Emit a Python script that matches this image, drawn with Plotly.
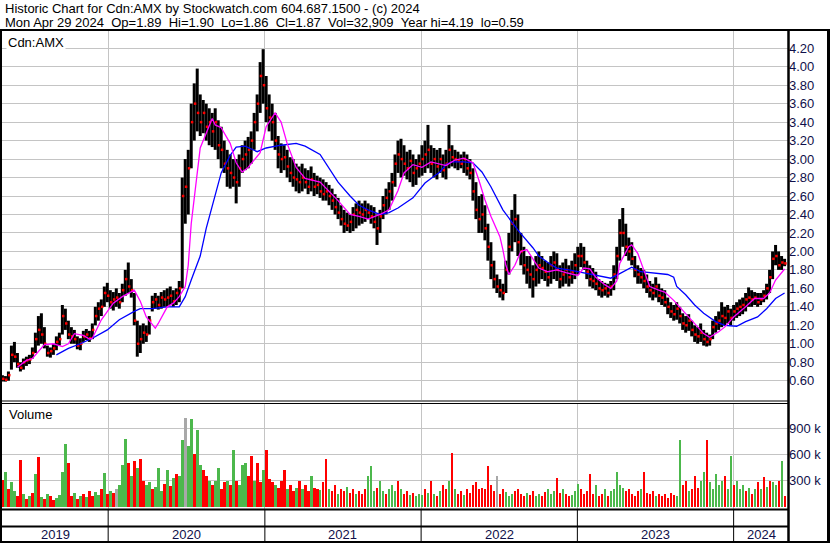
import plotly.graph_objects as go
import pandas as pd

# ---------------- data (weekly) ----------------
start_date = "2019-04-29"
n_weeks = 262
weeks = pd.date_range(start_date, periods=n_weeks, freq="7D")

high = [.66,.65,.70,.98,1.02,.90,.80,.84,.86,.88,
        .96,1.12,1.30,1.33,1.18,.98,.96,1.00,1.08,1.12,
        1.42,1.38,1.25,1.18,1.15,1.08,1.06,1.14,1.16,1.14,
        1.22,1.40,1.45,1.48,1.62,1.66,1.58,1.56,1.60,1.55,
        1.65,1.80,1.88,1.70,1.55,1.25,1.20,1.22,1.20,1.30,
        1.52,1.55,1.52,1.56,1.58,1.60,1.62,1.58,1.60,1.68,
        2.80,3.00,3.10,3.60,3.82,3.98,3.70,3.64,3.60,3.55,
        3.50,3.55,3.42,3.35,3.20,3.10,3.05,3.00,3.00,3.05,
        3.15,3.20,3.24,3.30,3.50,3.70,4.05,4.19,3.90,3.70,
        3.60,3.50,3.25,3.17,3.15,3.10,3.02,3.00,2.95,2.92,
        2.95,2.90,2.88,2.92,2.85,2.82,2.80,2.78,2.75,2.72,
        2.68,2.62,2.58,2.50,2.45,2.42,2.40,2.48,2.52,2.55,
        2.52,2.55,2.52,2.50,2.48,2.40,2.45,2.60,2.68,2.75,
        2.85,3.05,3.20,3.22,3.15,3.08,3.10,3.05,3.00,3.05,
        3.15,3.20,3.37,3.15,3.12,3.10,3.12,3.05,3.10,3.37,
        3.15,3.10,3.08,3.05,3.08,3.05,3.00,2.90,2.75,2.60,
        2.62,2.50,2.30,2.10,1.90,1.75,1.70,1.65,1.90,2.20,
        2.45,2.62,2.40,2.20,2.05,1.95,1.95,1.85,1.95,2.00,
        1.95,1.90,1.88,1.95,2.00,1.98,1.85,1.88,1.92,1.85,
        1.90,1.98,2.05,2.09,2.05,1.90,1.85,1.82,1.78,1.70,
        1.68,1.66,1.65,1.68,1.85,2.05,2.35,2.47,2.30,2.15,
        2.10,1.95,1.85,1.82,1.80,1.75,1.68,1.65,1.72,1.65,
        1.60,1.58,1.50,1.45,1.42,1.45,1.40,1.33,1.30,1.32,
        1.25,1.20,1.18,1.22,1.15,1.12,1.10,1.25,1.30,1.35,
        1.45,1.40,1.42,1.38,1.42,1.45,1.48,1.50,1.55,1.61,
        1.58,1.56,1.55,1.55,1.58,1.65,1.80,2.00,2.07,2.00,1.95,1.92]

low = [.59,.59,.60,.72,.80,.74,.70,.72,.76,.78,
       .84,.90,.98,1.00,.95,.86,.85,.88,.93,.98,
       1.10,1.15,1.05,1.00,1.00,.94,.93,1.02,1.04,1.02,
       1.05,1.20,1.25,1.30,1.40,1.45,1.38,1.36,1.40,1.38,
       1.45,1.52,1.55,1.50,1.20,.86,.90,1.00,1.02,1.10,
       1.35,1.38,1.37,1.38,1.40,1.40,1.42,1.40,1.42,1.45,
       1.60,2.30,2.40,2.90,3.20,3.30,3.25,3.28,3.20,3.15,
       3.13,3.10,3.00,2.90,2.85,2.70,2.68,2.70,2.52,2.70,
       2.85,2.88,2.90,2.95,3.10,3.30,3.50,3.60,3.40,3.30,
       3.20,3.10,2.90,2.85,2.88,2.80,2.75,2.70,2.65,2.63,
       2.65,2.68,2.62,2.65,2.60,2.62,2.58,2.55,2.55,2.50,
       2.45,2.40,2.35,2.28,2.20,2.22,2.20,2.22,2.25,2.28,
       2.30,2.32,2.35,2.30,2.25,2.07,2.20,2.35,2.40,2.45,
       2.55,2.70,2.85,2.80,2.82,2.78,2.75,2.70,2.72,2.80,
       2.82,2.85,2.90,2.85,2.80,2.78,2.85,2.80,2.78,2.90,
       2.92,2.90,2.88,2.90,2.85,2.82,2.78,2.55,2.35,2.20,
       2.20,2.12,1.90,1.70,1.60,1.55,1.50,1.47,1.55,1.75,
       2.00,2.10,1.95,1.85,1.75,1.65,1.60,1.50,1.62,1.65,
       1.70,1.68,1.62,1.65,1.70,1.68,1.60,1.62,1.65,1.62,
       1.65,1.70,1.75,1.83,1.80,1.70,1.62,1.60,1.58,1.52,
       1.50,1.52,1.50,1.52,1.58,1.70,1.90,2.05,1.95,1.90,
       1.85,1.72,1.65,1.65,1.60,1.55,1.50,1.47,1.50,1.45,
       1.42,1.40,1.32,1.28,1.25,1.26,1.22,1.15,1.12,1.14,
       1.08,1.02,1.00,1.02,.98,.97,.98,1.05,1.12,1.15,
       1.18,1.20,1.22,1.20,1.25,1.28,1.30,1.32,1.35,1.40,
       1.40,1.42,1.40,1.42,1.45,1.48,1.55,1.70,1.85,1.80,1.80,1.84]

close = [.62,.61,.66,.88,.86,.78,.74,.80,.82,.83,
         .90,1.05,1.15,1.10,1.00,.90,.92,.95,1.02,1.05,
         1.30,1.22,1.10,1.08,1.05,.98,1.00,1.08,1.10,1.06,
         1.15,1.30,1.38,1.40,1.55,1.52,1.45,1.48,1.50,1.45,
         1.58,1.70,1.62,1.58,1.25,1.00,1.05,1.12,1.10,1.25,
         1.45,1.48,1.42,1.50,1.48,1.50,1.52,1.46,1.55,1.60,
         2.60,2.70,2.90,3.40,3.60,3.50,3.40,3.50,3.35,3.40,
         3.30,3.40,3.15,3.10,2.95,2.90,2.85,2.80,2.75,2.90,
         3.00,3.05,3.10,3.20,3.40,3.60,3.90,3.80,3.55,3.45,
         3.40,3.20,3.05,3.00,3.02,2.92,2.85,2.80,2.78,2.75,
         2.80,2.75,2.70,2.78,2.70,2.72,2.65,2.62,2.65,2.60,
         2.55,2.48,2.42,2.35,2.30,2.28,2.32,2.40,2.45,2.42,
         2.40,2.45,2.42,2.38,2.32,2.25,2.38,2.50,2.58,2.65,
         2.75,2.95,3.05,3.00,2.95,2.90,2.98,2.85,2.90,2.95,
         3.00,3.05,3.10,2.95,3.00,2.92,3.00,2.88,2.95,3.10,
         3.02,3.00,2.98,2.95,3.00,2.90,2.85,2.65,2.45,2.35,
         2.40,2.25,2.05,1.85,1.70,1.62,1.58,1.55,1.80,2.05,
         2.30,2.35,2.10,2.00,1.85,1.80,1.75,1.70,1.80,1.85,
         1.82,1.78,1.72,1.85,1.88,1.80,1.70,1.75,1.80,1.72,
         1.78,1.85,1.95,1.95,1.88,1.78,1.70,1.68,1.65,1.60,
         1.58,1.60,1.55,1.62,1.75,1.95,2.20,2.20,2.05,2.00,
         1.92,1.80,1.75,1.72,1.68,1.62,1.58,1.55,1.62,1.52,
         1.50,1.45,1.40,1.35,1.32,1.38,1.30,1.22,1.20,1.25,
         1.15,1.10,1.08,1.12,1.05,1.02,1.05,1.18,1.22,1.25,
         1.30,1.28,1.35,1.28,1.35,1.38,1.40,1.42,1.48,1.50,
         1.48,1.50,1.45,1.48,1.52,1.60,1.72,1.92,1.95,1.85,1.88,1.87]

volume_k = [310,400,200,280,180,120,540,150,90,130,
            160,380,575,110,90,150,120,80,100,140,
            400,720,500,120,160,90,130,150,110,180,
            120,170,140,200,390,150,180,160,200,250,
            480,776,500,350,520,450,550,300,250,280,
            200,230,450,180,260,420,240,330,380,350,
            770,1020,700,1005,600,880,480,420,350,300,
            250,300,450,200,280,300,250,650,300,250,
            480,500,350,580,300,500,280,420,650,320,
            280,250,220,300,420,200,250,180,220,300,
            200,250,180,350,220,200,190,280,550,200,
            180,250,150,200,180,230,160,200,150,180,
            150,200,350,470,180,220,300,180,150,200,
            250,180,300,200,150,180,140,160,120,150,
            140,200,160,300,150,130,180,250,200,300,
            613,200,150,180,140,200,160,250,280,200,
            220,200,470,250,180,350,150,200,170,130,
            150,180,200,150,120,160,140,180,120,150,
            130,170,200,150,180,330,160,200,150,120,
            140,180,260,200,150,180,376,150,250,120,
            150,200,130,180,200,400,250,220,180,200,
            150,120,180,200,400,160,150,180,120,150,
            130,150,100,160,140,120,765,250,300,180,
            200,350,220,300,400,765,280,200,380,250,
            300,350,200,580,250,300,200,250,180,220,
            150,200,280,200,340,230,300,280,250,300,525,120]

# g = up, r = down, n = unchanged
volume_dir = ("rgrggrrgrg" "rgrgrgrrgg" "ggrrgrgrgr" "rggrgrgrng" "ggrgrgrrgg"
              "rgggrgrgrg" "gnggrggrrg" "rggrrgrgrg" "ggrrgrrgrr" "rgrrrgrrgr"
              "grrgrrgrrg" "rrgrrgrrgr" "rrgggrggrg" "ggrgrrgrgg" "grgrgrgrrg"
              "rgrrgrrrrr" "rrrrrnrrgg" "grrrrgrrgg" "rrgggrrgrr" "gggrrrrrgr"
              "rgrgggggrr" "rrrgrrrrgr" "rrrrrggrrg" "rrrggrgggg" "grggrgggrg"
              "rgrgrgrggrgr")

ma_fast_idx = [5,8,10,14,17,20,22,24,27,29,
               30,33,37,40,44,46,48,51,52,55,
               57,59,61,62,63,65,66,70,71,73,
               76,78,80,82,86,88,91,93,95,98,
               101,106,109,112,116,119,122,126,129,132,
               134,137,140,143,148,151,154,157,159,161,
               163,166,167,168,169,171,173,175,177,179,
               182,185,188,192,194,196,198,201,203,205,
               206,209,210,212,214,216,219,221,224,228,
               231,234,236,239,241,244,248,251,254,256,
               258,261]
ma_fast_val = [0.745,0.82,0.84,0.99,1.00,0.97,1.00,1.11,1.09,1.05,
               1.06,1.26,1.44,1.51,1.58,1.46,1.29,1.17,1.22,1.40,
               1.44,1.51,1.62,1.85,2.30,2.85,3.12,3.44,3.37,3.34,
               3.17,2.96,2.86,2.91,3.07,3.35,3.50,3.40,3.17,2.91,
               2.79,2.75,2.65,2.55,2.40,2.38,2.35,2.40,2.45,2.66,
               2.85,2.94,2.91,2.97,2.93,2.99,3.01,2.96,2.77,2.56,
               2.38,2.16,2.02,1.85,1.75,1.85,2.00,2.02,1.92,1.82,
               1.78,1.80,1.77,1.74,1.82,1.81,1.72,1.64,1.60,1.68,
               1.87,2.05,2.07,1.98,1.80,1.62,1.58,1.56,1.47,1.33,
               1.22,1.11,1.07,1.13,1.18,1.29,1.40,1.49,1.49,1.55,
               1.69,1.81]

ma_slow_idx = [18,22,26,30,35,39,44,46,50,55,
               59,61,63,66,68,70,73,76,78,81,
               85,88,93,98,101,106,109,112,116,119,
               122,126,129,132,137,139,141,143,146,148,
               150,154,157,160,163,167,169,172,177,179,
               182,185,189,192,198,203,206,210,213,218,
               222,224,225,228,231,234,238,241,245,248,
               252,255,258,261]
ma_slow_val = [0.88,0.95,1.00,1.06,1.15,1.26,1.35,1.38,1.38,1.40,
               1.40,1.51,1.69,1.95,2.25,2.48,2.85,3.04,3.13,3.14,
               3.08,3.12,3.15,3.17,3.14,3.05,2.90,2.75,2.60,2.50,
               2.45,2.40,2.42,2.47,2.58,2.66,2.74,2.79,2.86,2.94,
               2.97,2.97,2.96,2.86,2.70,2.45,2.36,2.23,2.04,1.95,
               1.88,1.82,1.80,1.78,1.74,1.71,1.76,1.83,1.78,1.76,
               1.75,1.72,1.62,1.53,1.42,1.33,1.24,1.20,1.19,1.24,
               1.29,1.38,1.49,1.55]

price_ticks = [0.6,0.8,1.0,1.2,1.4,1.6,1.8,2.0,2.2,2.4,2.6,2.8,3.0,3.2,3.4,3.6,3.8,4.0,4.2]
vol_ticks = [300, 600, 900]
vol_tick_labels = ["300 k", "600 k", "900 k"]
year_starts = ["2020-01-01","2021-01-01","2022-01-01","2023-01-01","2024-01-01"]
year_labels = ["2019","2020","2021","2022","2023","2024"]
year_label_pos = ["2019-08-30","2020-07-01","2021-07-02","2022-07-02","2023-07-02","2024-03-05"]

header1 = "Historic Chart for Cdn:AMX by Stockwatch.com 604.687.1500 - (c) 2024"
header2 = ("Mon Apr 29 2024\u00a0\u00a0Op=1.89\u00a0\u00a0Hi=1.90\u00a0\u00a0Lo=1.86\u00a0\u00a0"
           "Cl=1.87\u00a0\u00a0Vol=32,909\u00a0\u00a0Year hi=4.19\u00a0\u00a0lo=0.59")

# ---------------- geometry helpers ----------------
W, H = 830, 543
def px(x):
    return x / W
def py(y):
    return 1 - y / H

FONT = "Liberation Sans, Arial, sans-serif"
LABEL_COLOR = "#10104a"
GRID = "#c4c4c4"

fig = go.Figure()

# high-low bars
bx, by = [], []
for d, h, l in zip(weeks, high, low):
    bx += [d, d, None]
    by += [l, h, None]
fig.add_trace(go.Scatter(x=bx, y=by, mode="lines", line=dict(color="black", width=3),
                         hoverinfo="skip", showlegend=False, xaxis="x", yaxis="y"))
# close ticks
fig.add_trace(go.Scatter(x=weeks + pd.Timedelta(days=2), y=close, mode="markers",
                         marker=dict(symbol="square", size=2.5, color="#ff0000", line=dict(width=0)),
                         hoverinfo="skip", showlegend=False, xaxis="x", yaxis="y"))
# moving averages
fig.add_trace(go.Scatter(x=weeks[ma_slow_idx], y=ma_slow_val, mode="lines",
                         line=dict(color="#0000ff", width=1.3), showlegend=False,
                         xaxis="x", yaxis="y"))
fig.add_trace(go.Scatter(x=weeks[ma_fast_idx], y=ma_fast_val, mode="lines",
                         line=dict(color="#ff00ff", width=1.3), showlegend=False,
                         xaxis="x", yaxis="y"))

# volume
cmap = {"g": "#4cb84c", "r": "#ff0000", "n": "#a8a8a8"}
vcolors = [cmap[c] for c in volume_dir]
fig.add_trace(go.Bar(x=weeks + pd.Timedelta(days=1), y=volume_k, marker=dict(color=vcolors, line=dict(width=0)),
                     width=4.6 * 86400000, showlegend=False, xaxis="x2", yaxis="y2"))

xrange = ["2019-04-28", "2024-05-07"]
xdom = [px(2), px(788)]
axis_common = dict(range=xrange, type="date", tickvals=year_starts, showticklabels=False,
                   showgrid=True, gridcolor=GRID, gridwidth=1, zeroline=False, showline=False,
                   ticks="", fixedrange=True)

fig.update_layout(
    width=W, height=H, margin=dict(l=0, r=0, t=0, b=0),
    paper_bgcolor="white", plot_bgcolor="white",
    font=dict(family=FONT, size=13, color="black"),
    bargap=0,
    xaxis=dict(domain=xdom, anchor="y", **axis_common),
    xaxis2=dict(domain=xdom, anchor="y2", **axis_common),
    yaxis=dict(domain=[py(400), py(31)], range=[0.391, 4.387], side="right",
               tickvals=price_ticks, ticktext=[f"{v:.2f}" for v in price_ticks],
               tickfont=dict(family=FONT, size=13, color=LABEL_COLOR),
               showgrid=True, gridcolor=GRID, gridwidth=1, zeroline=False, ticks="",
               showline=False, fixedrange=True, anchor="x"),
    yaxis2=dict(domain=[py(509), py(404)], range=[-24, 1178], side="right",
                tickvals=vol_ticks, ticktext=vol_tick_labels,
                tickfont=dict(family=FONT, size=13, color=LABEL_COLOR),
                showgrid=True, gridcolor=GRID, gridwidth=1, zeroline=False, ticks="",
                showline=False, fixedrange=True, anchor="x2"),
)

shapes = []
def hline(y, x0, x1, w=1):
    shapes.append(dict(type="line", xref="paper", yref="paper", x0=px(x0), x1=px(x1),
                       y0=py(y), y1=py(y), line=dict(color="black", width=w)))
def vline(x, y0, y1, w=1):
    shapes.append(dict(type="line", xref="paper", yref="paper", x0=px(x), x1=px(x),
                       y0=py(y0), y1=py(y1), line=dict(color="black", width=w)))

hline(30, 0, 830, 2)
vline(1, 29, 543, 2)
vline(828.5, 29, 543, 3)
vline(788.5, 29, 543, 2.5)
hline(401, 0, 788, 1)
hline(403.5, 0, 788, 1)
hline(509.5, 0, 788, 2)
hline(526.5, 0, 788, 2)
hline(542, 0, 830, 2)
for ys in year_starts:
    shapes.append(dict(type="line", xref="x", yref="paper", x0=ys, x1=ys,
                       y0=py(510), y1=py(541), line=dict(color="black", width=1)))
fig.update_layout(shapes=shapes)

ann = []
ann.append(dict(text=header1, x=px(3), y=py(8.5), xref="paper", yref="paper",
                xanchor="left", yanchor="middle", showarrow=False,
                font=dict(family=FONT, size=13, color="black")))
ann.append(dict(text=header2, x=px(3), y=py(22.5), xref="paper", yref="paper",
                xanchor="left", yanchor="middle", showarrow=False,
                font=dict(family=FONT, size=13, color="black")))
ann.append(dict(text="Cdn:AMX", x=px(6), y=py(42), xref="paper", yref="paper",
                xanchor="left", yanchor="middle", showarrow=False, bgcolor="white",
                font=dict(family=FONT, size=13, color="black")))
ann.append(dict(text="Volume", x=px(7), y=py(414), xref="paper", yref="paper",
                xanchor="left", yanchor="middle", showarrow=False,
                font=dict(family=FONT, size=13, color="black")))
for lab, pos in zip(year_labels, year_label_pos):
    ann.append(dict(text=lab, x=pos, y=py(534.5), xref="x", yref="paper",
                    xanchor="center", yanchor="middle", showarrow=False,
                    font=dict(family=FONT, size=13, color=LABEL_COLOR)))
fig.update_layout(annotations=ann)

fig.write_html("out.html", config={"displayModeBar": False},
               post_script="document.body.style.margin='0';document.body.style.padding='0';"
                           "document.documentElement.style.overflow='hidden';")
